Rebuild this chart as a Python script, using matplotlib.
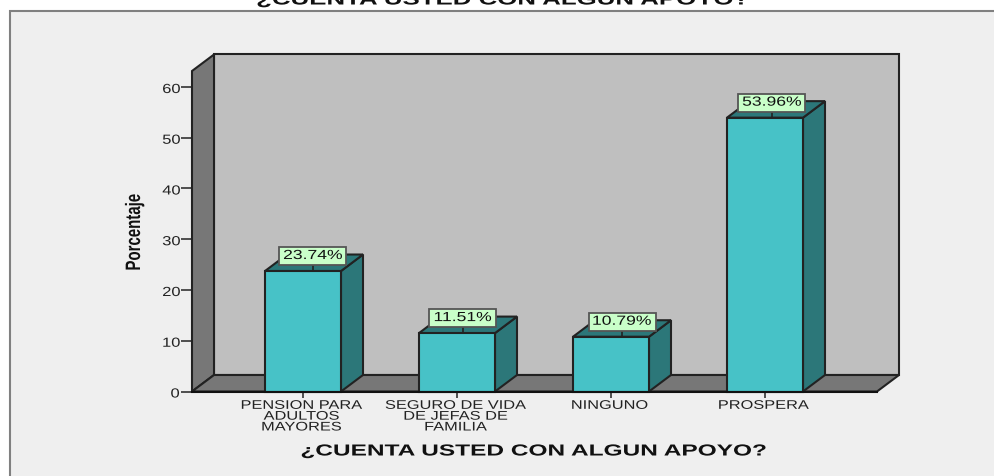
#!/usr/bin/env python3
"""Grafico de barras 3D: cuenta usted con algun apoyo"""

import matplotlib
matplotlib.use('Agg')
import matplotlib.pyplot as plt
import matplotlib.patches as mpatches
import matplotlib.patheffects as pe
from matplotlib.transforms import Affine2D

categorias = ['PENSION PARA\nADULTOS\nMAYORES', 'SEGURO DE VIDA\nDE JEFAS DE\nFAMILIA', 'NINGUNO', 'PROSPERA']
porcentajes = [23.74, 11.51, 10.79, 53.96]
etiquetas = ['23.74%', '11.51%', '10.79%', '53.96%']
ticks_y = [0, 10, 20, 30, 40, 50, 60]
titulo = '¿CUENTA USTED CON ALGUN APOYO?'

W, H = 995, 476
plt.rcParams['font.family'] = ['Liberation Sans', 'DejaVu Sans']


class Estirar(pe.AbstractPathEffect):
    """Estira el texto sobre su centro (la imagen original esta deformada)"""

    def __init__(self, sx=1.0, sy=1.0, mover=(0, 0)):
        super().__init__()
        self.sx, self.sy = sx, sy
        self.mover = mover

    def draw_path(self, renderer, gc, tpath, affine, rgbFace=None):
        ext = tpath.get_extents(affine)
        cx, cy = (ext.x0 + ext.x1) / 2, (ext.y0 + ext.y1) / 2
        extra = Affine2D().translate(-cx, -cy).scale(self.sx, self.sy).translate(cx, cy).translate(*self.mover)
        renderer.draw_path(gc, tpath, affine + extra, rgbFace)


def px(x, y):
    """Pixeles de la imagen (origen arriba) a fraccion de figura"""
    return x / W, 1 - y / H


fig = plt.figure(figsize=(W / 100, H / 100), dpi=100, facecolor='white')

# Panel de fondo
fig.patches.append(mpatches.Rectangle(px(9.5, H + 5), (W + 5) / W, (H - 6) / H, transform=fig.transFigure,
                                      facecolor='#EFEFEF', edgecolor='#808080', linewidth=1.5, zorder=-1))

# Plano frontal de los ejes: x 192-877, y 71-391.5
x0, x1, y_top, y_base = 192, 877, 71, 391.5
ax = fig.add_axes([x0 / W, 1 - y_base / H, (x1 - x0) / W, (y_base - y_top) / H])
ax.patch.set_visible(False)

px_cat = 154
px_val = 5.075
ax.set_xlim((x0 - 303) / px_cat, (x1 - 303) / px_cat)
ymax = (y_base - y_top) / px_val
ax.set_ylim(0, ymax)
dx = 22 / px_cat
dy = 16.5 / px_val
xa, xb = ax.get_xlim()

linea = dict(edgecolor='#222222', linewidth=1.5, clip_on=False, joinstyle='miter')

# Paredes y piso
ax.fill([xa + dx, xb + dx, xb + dx, xa + dx], [dy, dy, ymax + dy, ymax + dy], facecolor='#BFBFBF', zorder=1, **linea)
ax.fill([xa, xa + dx, xa + dx, xa], [0, dy, ymax + dy, ymax], facecolor='#777777', zorder=2, **linea)
ax.fill([xa, xb, xb + dx, xa + dx], [0, 0, dy, dy], facecolor='#777777', zorder=2, **linea)

# Barras
ancho = 76 / px_cat
for i, v in enumerate(porcentajes):
    izq, der = i - ancho / 2, i + ancho / 2
    ax.fill([der, der + dx, der + dx, der], [0, dy, v + dy, v], facecolor='#2C7779', zorder=3, **linea)
    ax.fill([izq, der, der + dx, izq + dx], [v, v, v + dy, v + dy], facecolor='#2C7779', zorder=3, **linea)
ax.bar(range(len(porcentajes)), porcentajes, ancho, color='#47C2C7', edgecolor='#222222',
       linewidth=1.5, zorder=4, clip_on=False)

# Etiquetas de valor
desp_etiqueta = [10, 6, 11, 7]
caja_w, caja_h = 67 / px_cat, 18 / px_val
for i, (v, txt) in enumerate(zip(porcentajes, etiquetas)):
    cx = i + desp_etiqueta[i] / px_cat
    cy = v + 15 / px_val
    ax.plot([cx, cx], [v, cy], color='#222222', lw=1.2, zorder=5, clip_on=False)
    ax.add_patch(mpatches.Rectangle((cx - caja_w / 2, cy - caja_h / 2), caja_w, caja_h, facecolor='#C9FFC9',
                                    edgecolor='#555555', linewidth=1.3, zorder=6, clip_on=False))
    t = ax.text(cx, cy, txt, ha='center', va='center', fontsize=9.5, color='#111111', zorder=7)
    t.set_path_effects([Estirar(sx=1.33)])

# Ejes
for s in ['top', 'right']:
    ax.spines[s].set_visible(False)
ax.spines['left'].set_visible(False)
ax.spines['bottom'].set_color('#111111')
ax.spines['bottom'].set_linewidth(1.5)
ax.spines['bottom'].set_zorder(5)

ax.set_yticks(ticks_y)
ax.set_xticks(range(len(categorias)))
ax.set_xticklabels(categorias, fontsize=9, linespacing=0.87, color='#222222')
ax.tick_params(axis='y', length=8, width=1.2, color='#333333', labelsize=9.5, labelcolor='#222222', pad=1.5)
ax.tick_params(axis='x', length=4.5, width=1.2, color='#333333', pad=1.5)
for t in ax.get_xticklabels():
    t.set_path_effects([Estirar(sx=1.31, mover=(-1.5, 0))])
for t in ax.get_yticklabels():
    t.set_path_effects([Estirar(sx=1.25, mover=(0, -1.5))])

# Textos
t = fig.text(*px(534, 451), titulo, ha='center', va='center', fontsize=11.5, fontweight='bold', color='#111111')
t.set_path_effects([Estirar(sx=1.53)])
t = fig.text(*px(502, 0), titulo, ha='center', va='center', fontsize=12, fontweight='bold', color='#111111')
t.set_path_effects([Estirar(sx=1.55)])
t = fig.text(*px(134.5, 232), 'Porcentaje', ha='center', va='center', rotation=90, fontsize=15,
             fontweight='bold', color='#111111')
t.set_path_effects([Estirar(sy=0.72)])

fig.savefig('out.png', dpi=100, facecolor='white')
